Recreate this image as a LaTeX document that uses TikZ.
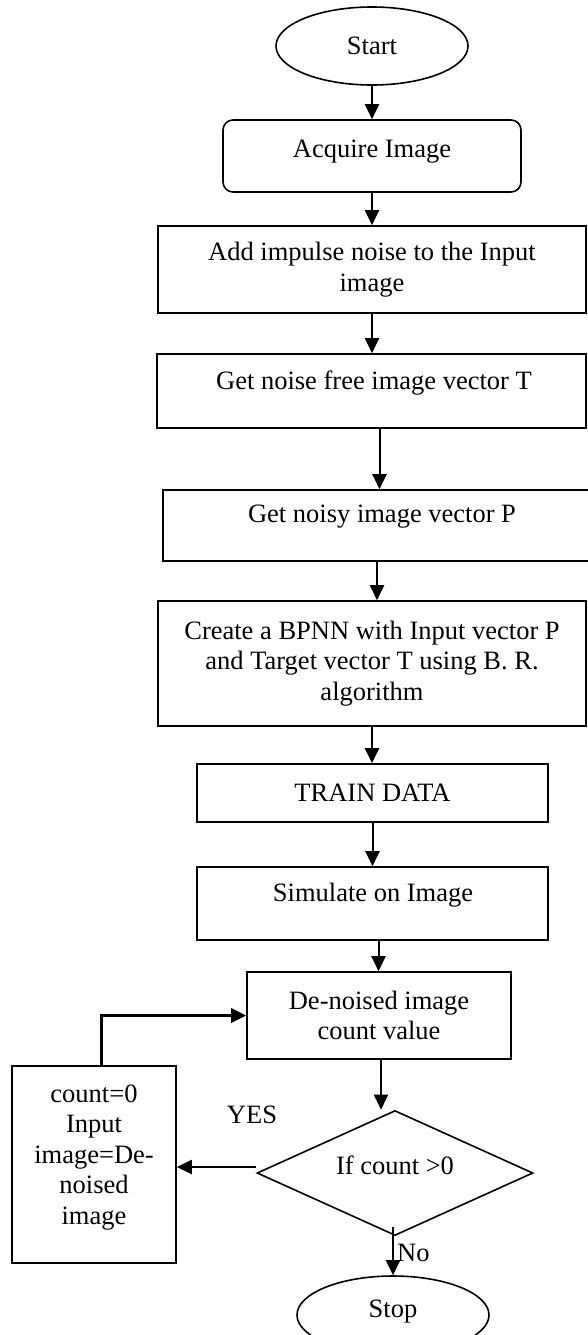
\documentclass[tikz,border=0pt]{standalone}
\usepackage{fontspec}
\setmainfont{Liberation Serif}
\usetikzlibrary{shapes.geometric,arrows.meta}
\begin{document}
\begin{tikzpicture}[x=1pt,y=-1pt,
  font=\fontsize{26.5}{30.5}\selectfont,
  box/.style={draw, line width=1.6pt, inner sep=0pt, align=center},
  txt/.style={inner sep=0pt, align=center},
  arr/.style={line width=2pt, -{Triangle[length=15pt,width=14pt]}},
  looparr/.style={line width=3pt, -{Triangle[length=15pt,width=14pt]}}]
\useasboundingbox (0,0) rectangle (588,1335);
\clip (0,0) rectangle (588,1335);
% nodes
\node[box, ellipse, minimum width=192pt, minimum height=78pt] (start) at (372,46) {Start};
\node[box, rounded corners=10pt, minimum width=298pt, minimum height=72pt] (acq) at (372,156) {};
\node[txt] (tacq) at (372,152) {Acquire Image};
\node[box, minimum width=428pt, minimum height=87pt] (add) at (372,269.5) {Add impulse noise to the Input\\image};
\node[box, minimum width=429pt, minimum height=74pt] (nf) at (371.5,391) {};
\node[txt] (tnf) at (374,383) {Get noise free image vector T};
\node[box, minimum width=426pt, minimum height=71pt] (noisy) at (376,525.5) {};
\node[txt] (tnoisy) at (382,517) {Get noisy image vector P};
\node[box, minimum width=428pt, minimum height=125pt] (create) at (372,663.5) {Create a BPNN with Input vector P\\and Target vector T using B. R.\\algorithm};
\node[box, minimum width=351pt, minimum height=58pt] (train) at (372.5,793) {TRAIN DATA};
\node[box, minimum width=351pt, minimum height=73pt] (sim) at (372.5,903.5) {};
\node[txt] (tsim) at (373,895) {Simulate on Image};
\node[box, minimum width=264pt, minimum height=87pt] (de) at (379,1015.5) {De-noised image\\count value};
\node[box, diamond, minimum width=276pt, minimum height=125pt] (dia) at (395,1173) {};
\node[txt] (tdia) at (395,1165) {If count >0};
\node[box, minimum width=164pt, minimum height=197pt] (lb) at (94,1164.5) {};
\node[txt] (tlb) at (94,1157.5) {count=0\\Input\\image=De-\\noised\\image};
\node[box, ellipse, minimum width=192pt, minimum height=78pt] (stop) at (393,1315) {};
\node[txt] (tstop) at (393,1312) {Stop};
\node[txt] (yes) at (252,1115) {YES};
\node[txt, anchor=west] (no) at (397,1253) {No};
% connectors
\draw[arr] (start.south) -- (acq.north);
\draw[arr] (acq.south) -- (add.north);
\draw[arr] (add.south) -- (add.south |- nf.north);
\draw[arr] ([xshift=8pt]nf.south) -- ([xshift=8pt]nf.south |- noisy.north);
\draw[arr] ([xshift=5pt]create.north |- noisy.south) -- ([xshift=5pt]create.north);
\draw[arr] (create.south) -- (create.south |- train.north);
\draw[arr] (train.south) -- (sim.north);
\draw[arr] ([xshift=6pt]sim.south) -- ([xshift=6pt]sim.south |- de.north);
\draw[arr] ([xshift=2pt]de.south) -- ([xshift=2pt]de.south |- dia.north);
\draw[looparr] ([xshift=7pt]lb.north) |- (de.west);
\draw[arr] ([yshift=6pt]dia.west) -- ([yshift=6pt]dia.west -| lb.east);
\path (stop.north |- dia.south) coordinate (ns);
\draw[arr] ([yshift=9pt]ns) -- (stop.north);
\end{tikzpicture}
\end{document}
